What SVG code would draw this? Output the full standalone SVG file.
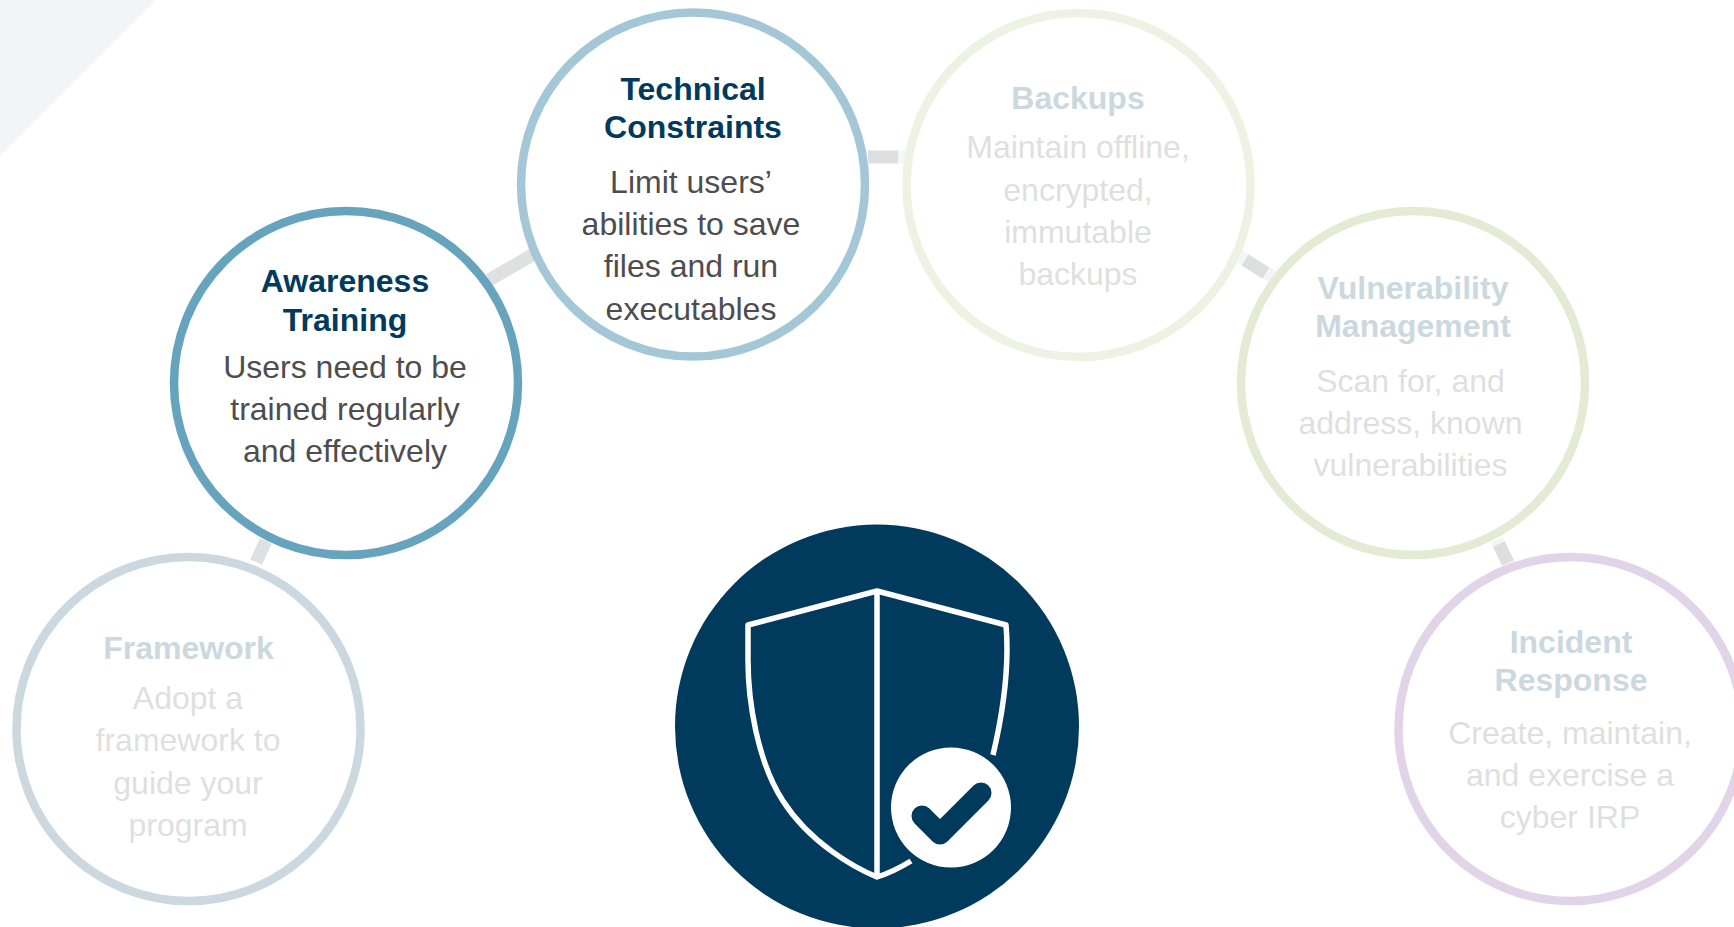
<svg xmlns="http://www.w3.org/2000/svg" width="1734" height="927" viewBox="0 0 1734 927">
<style>
text{font-family:"Liberation Sans",Arial,sans-serif;text-anchor:middle}
.t{font-size:32px;font-weight:700;fill:#003a5d}
.b{font-size:32px;fill:#4d4d4f}
.ft{font-size:32px;font-weight:700;fill:#ccd8e0}
.fb{font-size:32px;fill:#dfdfe0}
.ring{fill:#fff;stroke-width:8.500}
.c{stroke:#dfe0e2;stroke-width:13;fill:none}
.cl{stroke:#f5f5f6;stroke-width:13;fill:none}
.cd{stroke:#dcdee0;stroke-width:13;fill:none}
</style>
<rect width="1734" height="927" fill="#fff"/>
<polygon points="0,0 156,0 0,156" fill="#f3f4f6"/>
<g id="connectors">
<line class="c" x1="489" y1="280" x2="534" y2="254"/>
<line class="cd" x1="868" y1="157" x2="898" y2="157"/>
<line class="cl" x1="898" y1="157" x2="905" y2="157"/>
<line class="cl" x1="1238" y1="255" x2="1274" y2="278"/>
<line class="cd" x1="1245" y1="260" x2="1266" y2="273"/>
<line class="cl" x1="1497" y1="540" x2="1510" y2="567"/>
<line class="cd" x1="1499" y1="544" x2="1508" y2="563"/>
<line class="c" x1="256" y1="562" x2="266" y2="541"/>
</g>
<g id="node-framework">
<circle class="ring" cx="188.500" cy="729" r="172" stroke="#cbd8e0"/>
<text class="ft" x="188.500" y="659">Framework</text>
<text class="fb" x="188" y="709">Adopt a</text>
<text class="fb" x="188" y="751">framework to</text>
<text class="fb" x="188" y="794">guide your</text>
<text class="fb" x="188" y="836">program</text>
</g>
<g id="node-awareness">
<circle class="ring" cx="346" cy="383" r="172" stroke="#66a3bc"/>
<text class="t" x="345" y="292">Awareness</text>
<text class="t" x="345" y="331">Training</text>
<text class="b" x="345" y="378">Users need to be</text>
<text class="b" x="345" y="420">trained regularly</text>
<text class="b" x="345" y="462">and effectively</text>
</g>
<g id="node-technical">
<circle class="ring" cx="693" cy="184.500" r="172" stroke="#a3c7d6"/>
<text class="t" x="693" y="100">Technical</text>
<text class="t" x="693" y="138">Constraints</text>
<text class="b" x="691" y="193">Limit users’</text>
<text class="b" x="691" y="235">abilities to save</text>
<text class="b" x="691" y="277">files and run</text>
<text class="b" x="691" y="320">executables</text>
</g>
<g id="node-backups">
<circle class="ring" cx="1078.500" cy="185" r="172" stroke="#eef2e2"/>
<text class="ft" x="1078" y="109">Backups</text>
<text class="fb" x="1078" y="158">Maintain offline,</text>
<text class="fb" x="1078" y="201">encrypted,</text>
<text class="fb" x="1078" y="243">immutable</text>
<text class="fb" x="1078" y="285">backups</text>
</g>
<g id="node-vulnerability">
<circle class="ring" cx="1413" cy="383" r="172" stroke="#e3ebd4"/>
<text class="ft" x="1413" y="299">Vulnerability</text>
<text class="ft" x="1413" y="337">Management</text>
<text class="fb" x="1410.500" y="392">Scan for, and</text>
<text class="fb" x="1410.500" y="434">address, known</text>
<text class="fb" x="1410.500" y="476">vulnerabilities</text>
</g>
<g id="node-incident">
<circle class="ring" cx="1570.500" cy="729" r="172" stroke="#e2d4e8"/>
<text class="ft" x="1571" y="653">Incident</text>
<text class="ft" x="1571" y="691">Response</text>
<text class="fb" x="1570" y="744">Create, maintain,</text>
<text class="fb" x="1570" y="786">and exercise a</text>
<text class="fb" x="1570" y="828">cyber IRP</text>
</g>
<g id="node-shield">
<circle cx="877" cy="726.500" r="202" fill="#003a5d"/>
<path d="M877 592V877" stroke="#fff" stroke-width="5.500" fill="none"/>
<path d="M911 861Q893 872 877 877C855 868 810 843 783 801C757 761 748 700 748 660V625L877 591L1006 625C1009 660 1006 700 993 755" stroke="#fff" stroke-width="5.500" fill="none" stroke-linejoin="round"/>
<circle cx="951" cy="807.500" r="60" fill="#fff"/>
<path d="M922 816L940 834L981 793" stroke="#003a5d" stroke-width="21" fill="none" stroke-linecap="round" stroke-linejoin="round"/>
</g>
</svg>
